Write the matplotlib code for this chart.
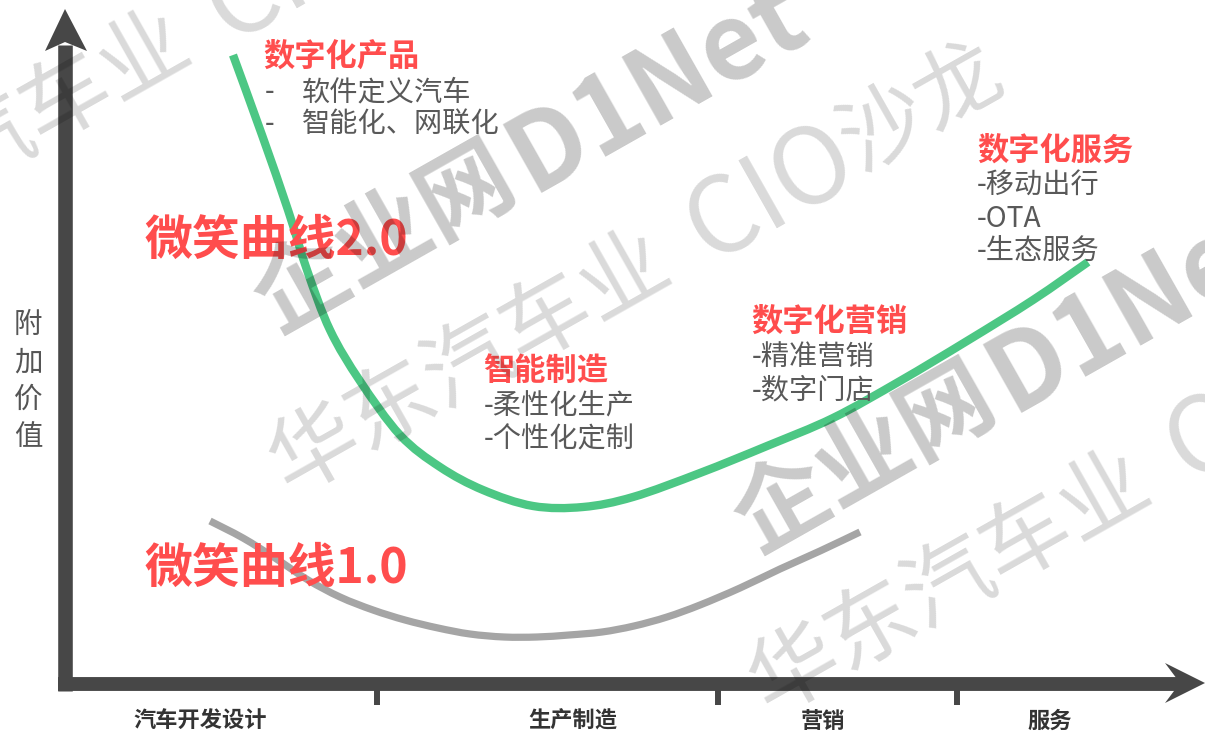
import matplotlib
matplotlib.use("Agg")
import matplotlib.pyplot as plt
import numpy as np
from matplotlib.path import Path
from matplotlib.patches import PathPatch

plt.rcParams['font.family'] = ['Noto Sans CJK SC', 'DejaVu Sans']

# ---------------- data (pixel space) ----------------
stage_labels = ['汽车开发设计', '生产制造', '营销', '服务']
stage_x = [200, 573, 823, 1050]
tick_x = [377, 718, 957]

curve2_x = [233, 262, 288, 307, 330, 360, 400, 440, 483, 533, 583, 633,
            700, 767, 833, 900, 967, 1033, 1088]
curve2_y = [55, 135, 210, 270, 330, 381, 435, 467, 490, 506, 507, 497,
            473, 446, 418, 381, 341, 300, 262]

curve1_x = [210, 243, 275, 308, 340, 373, 405, 438, 470, 504, 537, 569,
            602, 634, 667, 700, 740, 780, 820, 860]
curve1_y = [521, 538, 558, 580, 597, 610, 620, 628, 634, 637, 637, 635,
            632, 626, 617, 605, 588, 569, 551, 532]

curve_names = ['微笑曲线2.0', '微笑曲线1.0']
curve_name_pos = [(145, 240), (145, 568)]

group_titles = ['数字化产品', '智能制造', '数字化营销', '数字化服务']
group_title_pos = [(263, 57), (483, 371), (751, 322), (977, 151)]
group_items = [
    ['软件定义汽车', '智能化、网联化'],
    ['-柔性化生产', '-个性化定制'],
    ['-精准营销', '-数字门店'],
    ['-移动出行', '-OTA', '-生态服务'],
]
group_item_x = [302, 484, 752, 977]
group_item_y0 = [92, 407, 357, 186]
group_item_dy = [32, 32, 33, 33]

y_label = '附加价值'

wm_text_parts = ['华东汽车业', 'CIO', '沙龙']
wm_logo_parts = ['企业网', 'D1Net']
wm_shift = [-1, 0, 1]

# ---------------- styles ----------------
RED = '#ff4d4d'
GREEN = '#4cc784'
GRAYLINE = '#a5a5a5'
AXIS = '#474747'
TXT = '#595959'


def smooth_path(xs, ys):
    pts = np.column_stack([xs, ys]).astype(float)
    verts = [pts[0]]
    codes = [Path.MOVETO]
    n = len(pts)
    for i in range(n - 1):
        p0 = pts[i - 1] if i > 0 else pts[i]
        p1 = pts[i]
        p2 = pts[i + 1]
        p3 = pts[i + 2] if i + 2 < n else pts[i + 1]
        verts += [p1 + (p2 - p0) / 6.0, p2 - (p3 - p1) / 6.0, p2]
        codes += [Path.CURVE4] * 3
    return Path(verts, codes)


fig = plt.figure(figsize=(12.05, 7.32), dpi=100)
ax = fig.add_axes([0, 0, 1, 1])
ax.set_xlim(0, 1205)
ax.set_ylim(732, 0)
ax.axis('off')

# axes arrows
ax.plot([65, 65], [691, 45], color=AXIS, lw=10.5, solid_capstyle='butt', zorder=3)
ax.fill([65, 45, 65, 87], [9, 51, 42, 51], color=AXIS, zorder=3, lw=0)
ax.plot([58, 1182], [684, 684], color=AXIS, lw=10, solid_capstyle='butt', zorder=3)
ax.fill([1205, 1165, 1180, 1165], [683, 663, 683, 703], color=AXIS, zorder=3, lw=0)
for tx in tick_x:
    ax.plot([tx, tx], [688, 705], color=AXIS, lw=4.3, solid_capstyle='butt', zorder=3)

for lab, sx in zip(stage_labels, stage_x):
    ax.text(sx, 721, lab, ha='center', va='center', fontsize=16, fontweight='bold',
            color='#333333')

ax.text(28, 381, '\n'.join(y_label), ha='center', va='center', fontsize=20.5,
        color='#555555', linespacing=1.33)

# curves
ax.add_patch(PathPatch(smooth_path(curve2_x, curve2_y), fill=False, edgecolor=GREEN,
                       lw=6, capstyle='butt', joinstyle='round', zorder=4))
ax.add_patch(PathPatch(smooth_path(curve1_x, curve1_y), fill=False, edgecolor=GRAYLINE,
                       lw=5.2, capstyle='butt', joinstyle='round', zorder=4))

for name, (nx, ny) in zip(curve_names, curve_name_pos):
    ax.text(nx, ny, name, ha='left', va='center', fontsize=34.5, fontweight='bold',
            color=RED, zorder=5)

for i, title in enumerate(group_titles):
    tx, ty = group_title_pos[i]
    ax.text(tx, ty, title, ha='left', va='center', fontsize=22.5, fontweight='bold',
            color=RED, zorder=5)
    for j, item in enumerate(group_items[i]):
        yy = group_item_y0[i] + j * group_item_dy[i]
        if i == 0:
            ax.text(265, yy, '-', ha='left', va='center', fontsize=20, color=TXT, zorder=5)
        ax.text(group_item_x[i], yy, item, ha='left', va='center', fontsize=20.3,
                color=TXT, zorder=5)

# watermark (semi-transparent overlay)
ANG = 29.5
c, s = np.cos(np.radians(ANG)), np.sin(np.radians(ANG))


def along(x0, y0, d):
    return x0 + d * c, y0 - d * s


text_offsets = [0, 480, 655]
text_sizes = [64, 76, 62]
logo_offsets = [0, 292]
logo_sizes = [68, 76]
for k in wm_shift:
    dx, dy = 480 * k, 220 * k
    for part, off, fs in zip(wm_text_parts, text_offsets, text_sizes):
        px, py = along(277 + dx, 473 + dy, off)
        ax.text(px, py, part, rotation=ANG, rotation_mode='anchor', ha='left',
                va='center', fontsize=fs, color='black', alpha=0.15, zorder=10)
    for part, off, fs in zip(wm_logo_parts, logo_offsets, logo_sizes):
        px, py = along(262 + dx, 310 + dy, off)
        ax.text(px, py, part, rotation=ANG, rotation_mode='anchor', ha='left',
                va='center', fontsize=fs, fontweight='bold', color='black',
                alpha=0.21, zorder=10)

fig.savefig('out.png', dpi=100)
